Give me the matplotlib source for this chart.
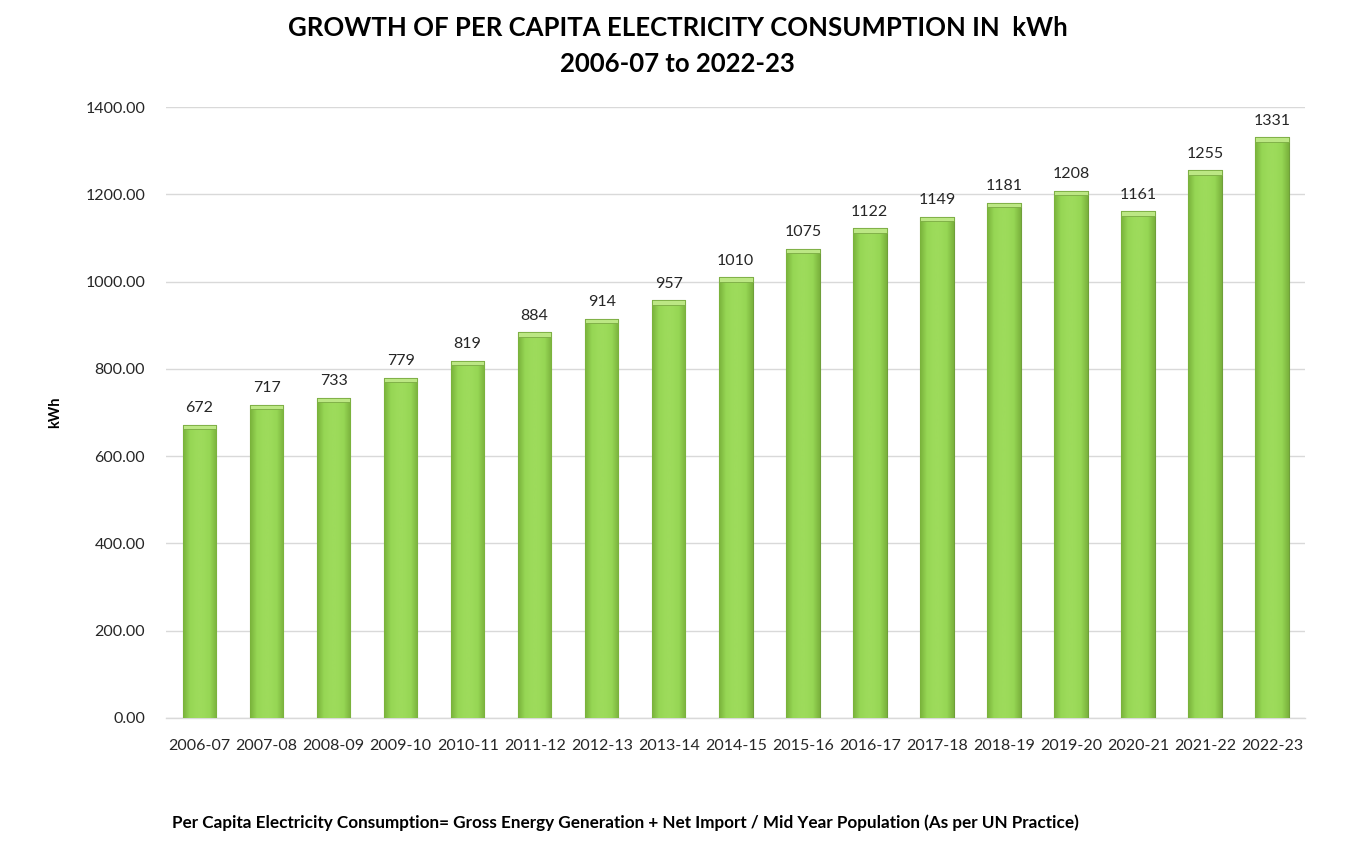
import matplotlib
matplotlib.use("Agg")
import matplotlib.pyplot as plt
import numpy as np
from matplotlib.colors import LinearSegmentedColormap

years = ["2006-07", "2007-08", "2008-09", "2009-10", "2010-11", "2011-12", "2012-13",
         "2013-14", "2014-15", "2015-16", "2016-17", "2017-18", "2018-19", "2019-20",
         "2020-21", "2021-22", "2022-23"]
consumption = [672, 717, 733, 779, 819, 884, 914, 957, 1010, 1075, 1122, 1149, 1181,
               1208, 1161, 1255, 1331]
yticks = [0, 200, 400, 600, 800, 1000, 1200, 1400]

plt.rcParams['font.family'] = ['Lato', 'DejaVu Sans']

fig = plt.figure(figsize=(13.5, 8.66), dpi=100)
ax = fig.add_axes([0.123, 0.171, 0.844, 0.7054])

x = np.arange(len(years))
bars = ax.bar(x, consumption, width=0.5, color='#92D050', edgecolor='#6F9F3A',
              linewidth=0.8, zorder=3)

grad = np.linspace(0, 1, 64)
cmap = LinearSegmentedColormap.from_list('g', ['#79B23B', '#96D654', '#9DDB5B', '#9DDB5B', '#96D654', '#7AB23D'])
for b in bars:
    bx, by, bw, bh = b.get_x(), b.get_y(), b.get_width(), b.get_height()
    im = ax.imshow(grad[np.newaxis, :], extent=[bx, bx + bw, by, by + bh], aspect='auto',
                   cmap=cmap, zorder=3.5, origin='lower')
    im.set_clip_path(b)
    ax.bar(bx + bw / 2, 10, bottom=by + bh - 10, width=bw, color='#BCE784',
           edgecolor='#7AAA42', linewidth=0.6, zorder=4)

for xi, v in zip(x, consumption):
    ax.text(xi, v + 22, f"{v}", ha='center', va='bottom', fontsize=11.5, color='#262626')

ax.set_xlim(-0.5, len(years) - 0.5)
ax.set_ylim(0, 1400)
ax.set_yticks(yticks)
ax.set_yticklabels([f"{t:.2f}" for t in yticks], fontsize=11.5, color='#262626')
ax.set_xticks(x)
ax.set_xticklabels(years, fontsize=11.5, color='#262626')
ax.tick_params(axis='y', length=0, pad=15)
ax.tick_params(axis='x', length=0, pad=15)
ax.yaxis.grid(True, color='#D9D9D9', linewidth=1.0, zorder=0)
ax.set_axisbelow(True)
for s in ['top', 'right', 'left']:
    ax.spines[s].set_visible(False)
ax.spines['bottom'].set_color('#D9D9D9')
ax.spines['bottom'].set_linewidth(1.0)

fig.text(55 / 1350, 1 - 412 / 866, "kWh", rotation=90, ha='center', va='center',
         fontsize=10.5, fontweight='bold', color='black')

fig.text(0.502, 1 - 28 / 866, "GROWTH OF PER CAPITA ELECTRICITY CONSUMPTION IN  kWh",
         ha='center', va='center', fontsize=18.5, fontweight='bold', color='black')
fig.text(0.502, 1 - 64 / 866, "2006-07 to 2022-23", ha='center', va='center',
         fontsize=18.5, fontweight='bold', color='black')
fig.text(172 / 1350, 1 - 823 / 866, "Per Capita Electricity Consumption= Gross Energy Generation + Net Import / Mid Year Population (As per UN Practice)",
         ha='left', va='center', fontsize=12.3, fontweight='bold', color='black')

fig.savefig("out.png", dpi=100)
